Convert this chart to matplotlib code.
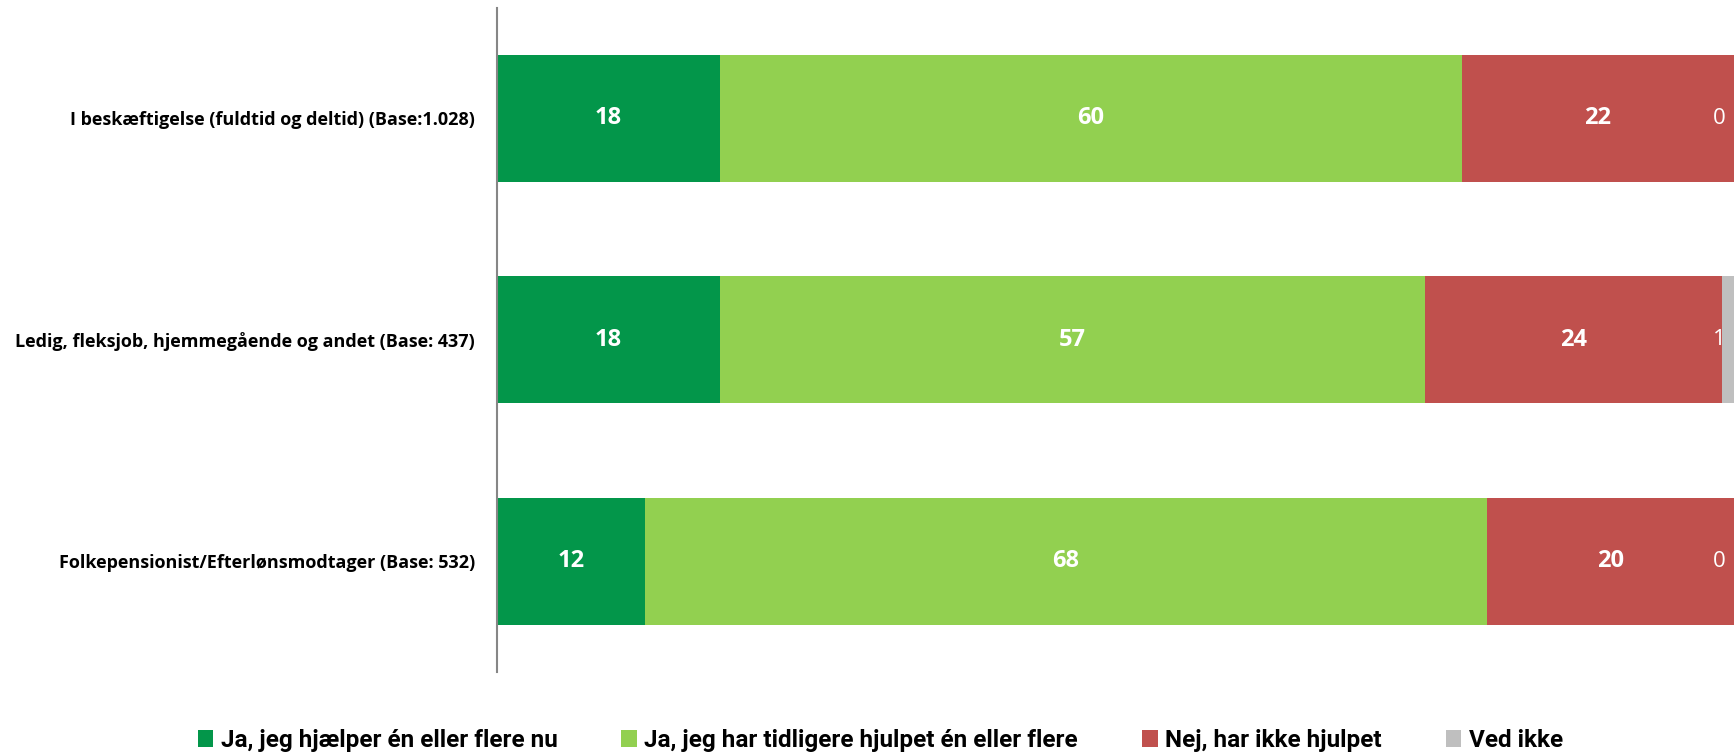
import matplotlib
matplotlib.use("Agg")
import matplotlib.pyplot as plt
import numpy as np

categories = [
    "I beskæftigelse (fuldtid og deltid) (Base:1.028)",
    "Ledig, fleksjob, hjemmegående og andet (Base: 437)",
    "Folkepensionist/Efterlønsmodtager (Base: 532)",
]
series_names = [
    "Ja, jeg hjælper én eller flere nu",
    "Ja, jeg har tidligere hjulpet én eller flere",
    "Nej, har ikke hjulpet",
    "Ved ikke",
]
hjaelper_nu = [18, 18, 12]
tidligere = [60, 57, 68]
nej = [22, 24, 20]
ved_ikke = [0, 1, 0]

series = [hjaelper_nu, tidligere, nej, ved_ikke]
colors = ["#03964A", "#92D050", "#C0504D", "#BFBFBF"]

fig = plt.figure(figsize=(17.36, 7.54), dpi=100)
ax = fig.add_axes([0.2863, 0.1088, 0.7125, 0.881])

y = np.arange(len(categories))
left = np.zeros(len(categories))
handles = []
for si, (vals, col, name) in enumerate(zip(series, colors, series_names)):
    vals = np.array(vals, dtype=float)
    b = ax.barh(y, vals, left=left, height=0.575, color=col, label=name)
    handles.append(b)
    for i, v in enumerate(vals):
        if si == 3:
            x = min(left[i] + v / 2, 99.3) - 0.5
            ax.text(x, y[i], f"{int(v)}", ha="center", va="center", color="white",
                    fontsize=16, family="Open Sans")
        else:
            ax.text(left[i] + v / 2, y[i], f"{int(v)}", ha="center", va="center",
                    color="white", fontsize=17, fontweight="bold", family="Open Sans")
    left += vals

ax.set_xlim(0, 100)
ax.set_ylim(2.5, -0.5)
ax.set_yticks(y)
ax.set_yticklabels(categories, fontsize=13, fontweight="bold", family="Open Sans")
ax.tick_params(axis="y", length=0, pad=16)
ax.set_xticks([])
for s in ["top", "right", "bottom"]:
    ax.spines[s].set_visible(False)
ax.spines["left"].set_color("#868686")
ax.spines["left"].set_linewidth(1.5)

leg = fig.legend(handles=handles, labels=series_names, loc="center",
                 bbox_to_anchor=(0.507, 0.018), ncol=4, frameon=False,
                 prop={"family": "Roboto", "weight": "bold", "size": 17.5},
                 handlelength=0.65, handleheight=0.65, handletextpad=0.3,
                 columnspacing=2.63)

fig.savefig("out.png", dpi=100)
